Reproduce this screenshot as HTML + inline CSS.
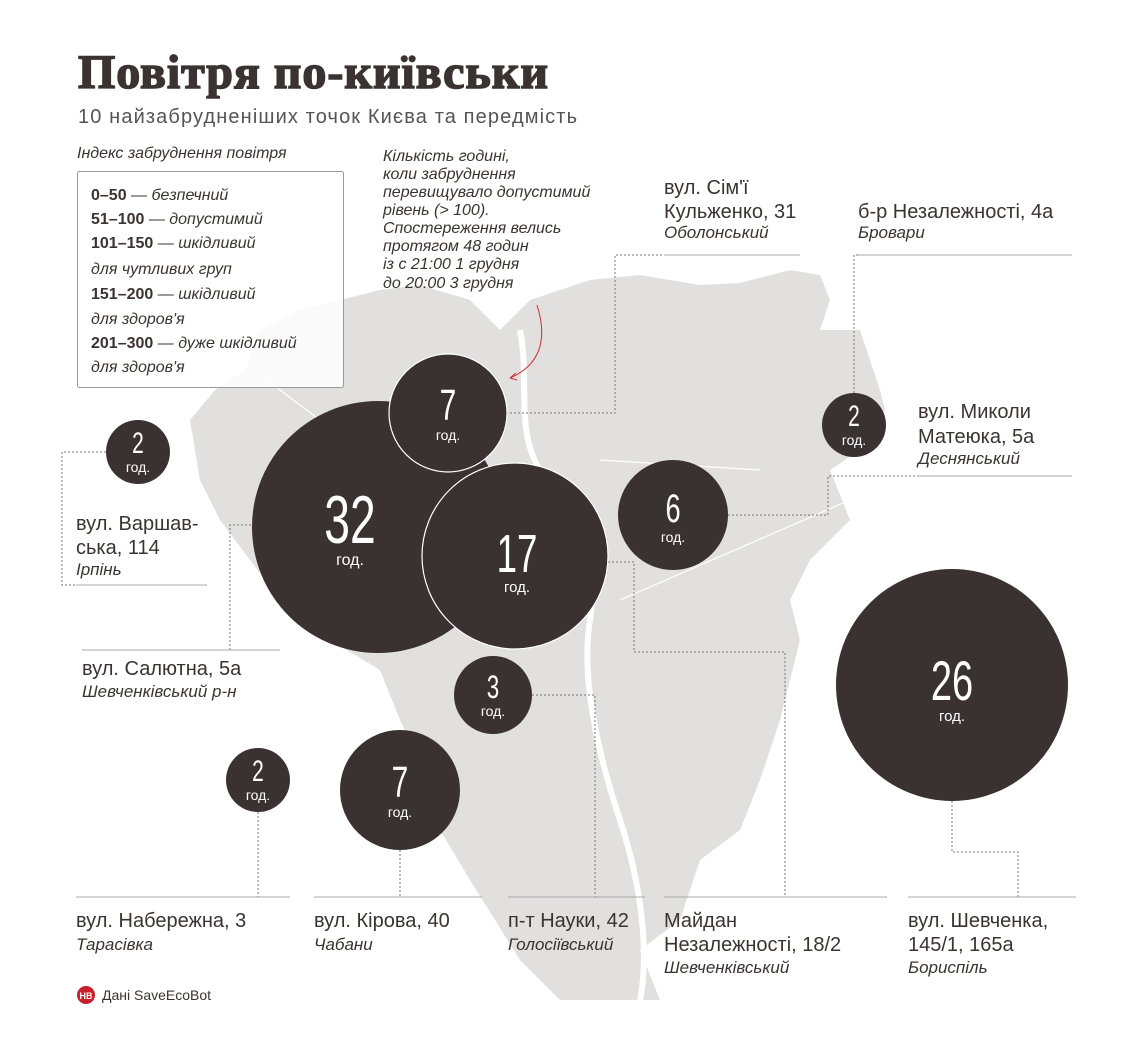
<!DOCTYPE html>
<html><head><meta charset="utf-8"><style>
body{margin:0;background:#fff}
svg{display:block}
text{font-family:"Liberation Sans",sans-serif;fill:#3a3331}
.l{font-size:20px}
.i{font-size:17px;font-style:italic}
.n{font-size:16px;font-style:italic}
.num{fill:#fff;font-family:"Liberation Sans",sans-serif;text-anchor:middle}
.g{fill:#fff;font-size:14px;text-anchor:middle}
.d{stroke:#777;stroke-width:1;stroke-dasharray:2 2;fill:none}
.s{stroke:#aaa;stroke-width:1;fill:none}
</style></head><body>
<svg width="1148" height="1053" viewBox="0 0 1148 1053">
<polygon fill="#e2dfdf" points="190,420 215,390 245,370 260,330 300,310 340,300 380,290 420,285 470,300 500,330 530,300 560,290 590,280 640,275 700,285 740,283 790,270 820,275 830,300 820,330 860,330 880,390 885,410 860,450 830,470 850,520 810,560 790,600 800,640 780,720 760,780 740,830 700,860 680,920 640,950 660,1000 560,1000 520,960 470,880 440,830 420,760 400,720 380,670 330,640 280,600 250,560 220,520 200,480"/>
<path d="M520,330 C530,380 515,430 540,470 C560,520 600,560 590,620 C580,680 600,760 620,820 C640,880 650,950 640,1000" stroke="#fff" stroke-width="6" fill="none"/>
<path d="M240,360 L320,420 M600,460 L760,470 M620,600 L850,500" stroke="#fff" stroke-width="1.2" fill="none"/>

<text x="78" y="88" style="font-family:'Liberation Serif',serif;font-weight:900;font-size:48px;stroke:#3a3331;stroke-width:1.5" textLength="470">Повітря по-київськи</text>
<text x="78" y="123" style="font-size:20px;fill:#555" textLength="499">10 найзабрудненіших точок Києва та передмість</text>

<text x="77" y="158" class="n">Індекс забруднення повітря</text>
<rect x="77.5" y="171.5" width="266" height="216" rx="2" fill="rgba(255,255,255,0.85)" stroke="#999"/>
<g style="font-size:16px">
<text x="91" y="200"><tspan font-weight="bold">0–50</tspan><tspan font-style="italic"> — безпечний</tspan></text>
<text x="91" y="224"><tspan font-weight="bold">51–100</tspan><tspan font-style="italic"> — допустимий</tspan></text>
<text x="91" y="248"><tspan font-weight="bold">101–150</tspan><tspan font-style="italic"> — шкідливий</tspan></text>
<text x="91" y="274" font-style="italic">для чутливих груп</text>
<text x="91" y="299"><tspan font-weight="bold">151–200</tspan><tspan font-style="italic"> — шкідливий</tspan></text>
<text x="91" y="324" font-style="italic">для здоров'я</text>
<text x="91" y="348"><tspan font-weight="bold">201–300</tspan><tspan font-style="italic"> — дуже шкідливий</tspan></text>
<text x="91" y="372" font-style="italic">для здоров'я</text>
</g>
<g>
<text x="383" y="161" class="n">Кількість годині,</text>
<text x="383" y="179" class="n">коли забруднення</text>
<text x="383" y="197" class="n">перевищувало допустимий</text>
<text x="383" y="215" class="n">рівень (&gt; 100).</text>
<text x="383" y="233" class="n">Спостереження велись</text>
<text x="383" y="251" class="n">протягом 48 годин</text>
<text x="383" y="269" class="n">із с 21:00 1 грудня</text>
<text x="383" y="288" class="n">до 20:00 3 грудня</text>
</g>
<path d="M537,305 C548,340 540,365 510,378" stroke="#c33" fill="none"/>
<path d="M510,378 l6,-5 M510,378 l7,2" stroke="#c33" fill="none"/>

<path class="d" d="M506,413 H615 V255 H664"/>
<path class="s" d="M664,255 H800"/>
<path class="d" d="M854,393 V255 H858"/><path class="s" d="M858,255 H1072"/>
<path class="d" d="M728,515 H828 V476 H918"/><path class="s" d="M918,476 H1072"/>
<path class="d" d="M106,452 H62 V585 H76"/><path class="s" d="M76,585 H207"/>
<path class="d" d="M255,525 H230 V650"/><path class="s" d="M82,650 H280"/>
<path class="d" d="M258,812 V897"/><path class="s" d="M76,897 H290"/>
<path class="d" d="M400,850 V897"/><path class="s" d="M314,897 H482"/>
<path class="d" d="M532,695 H595 V897"/><path class="s" d="M508,897 H645"/>
<path class="d" d="M608,562 H634 V652 H785 V897"/><path class="s" d="M664,897 H887"/>
<path class="d" d="M952,801 V852 H1018 V897"/><path class="s" d="M908,897 H1076"/>

<g fill="#3a3231">
<circle cx="378" cy="527" r="126"/>
<circle cx="448" cy="413" r="59" stroke="#fff" stroke-width="1.2"/>
<circle cx="515" cy="556" r="93" stroke="#fff" stroke-width="1.2"/>
<circle cx="673" cy="515" r="55"/>
<circle cx="854" cy="425" r="32"/>
<circle cx="138" cy="452" r="32"/>
<circle cx="493" cy="695" r="39"/>
<circle cx="952" cy="685" r="116"/>
<circle cx="400" cy="790" r="60"/>
<circle cx="258" cy="780" r="32"/>
</g>
<text class="num" transform="translate(350,543) scale(0.68,1)" style="font-size:68px">32</text><text class="g" x="350" y="565" style="font-size:16px">год.</text>
<text class="num" transform="translate(448,420) scale(0.68,1)" style="font-size:44px">7</text><text class="g" x="448" y="440">год.</text>
<text class="num" transform="translate(517,572) scale(0.68,1)" style="font-size:54px">17</text><text class="g" x="517" y="592" style="font-size:15px">год.</text>
<text class="num" transform="translate(673,522) scale(0.68,1)" style="font-size:40px">6</text><text class="g" x="673" y="542">год.</text>
<text class="num" transform="translate(854,426) scale(0.7,1)" style="font-size:30px">2</text><text class="g" x="854" y="445">год.</text>
<text class="num" transform="translate(138,453) scale(0.7,1)" style="font-size:30px">2</text><text class="g" x="138" y="472">год.</text>
<text class="num" transform="translate(493,698) scale(0.7,1)" style="font-size:32px">3</text><text class="g" x="493" y="716">год.</text>
<text class="num" transform="translate(952,700) scale(0.68,1)" style="font-size:56px">26</text><text class="g" x="952" y="721" style="font-size:15px">год.</text>
<text class="num" transform="translate(400,797) scale(0.68,1)" style="font-size:44px">7</text><text class="g" x="400" y="817">год.</text>
<text class="num" transform="translate(258,781) scale(0.7,1)" style="font-size:30px">2</text><text class="g" x="258" y="800">год.</text>

<text class="l" x="664" y="194">вул. Сім'ї</text>
<text class="l" x="664" y="218">Кульженко, 31</text>
<text class="i" x="664" y="238">Оболонський</text>
<text class="l" x="858" y="218">б-р Незалежності, 4а</text>
<text class="i" x="858" y="238">Бровари</text>
<text class="l" x="918" y="418">вул. Миколи</text>
<text class="l" x="918" y="443">Матеюка, 5а</text>
<text class="i" x="918" y="464">Деснянський</text>
<text class="l" x="76" y="530">вул. Варшав-</text>
<text class="l" x="76" y="554">ська, 114</text>
<text class="i" x="76" y="575">Ірпінь</text>
<text class="l" x="82" y="675">вул. Салютна, 5а</text>
<text class="i" x="82" y="697">Шевченківський р-н</text>
<text class="l" x="76" y="927">вул. Набережна, 3</text>
<text class="i" x="76" y="950">Тарасівка</text>
<text class="l" x="314" y="927">вул. Кірова, 40</text>
<text class="i" x="314" y="950">Чабани</text>
<text class="l" x="508" y="927">п-т Науки, 42</text>
<text class="i" x="508" y="950">Голосіївський</text>
<text class="l" x="664" y="927">Майдан</text>
<text class="l" x="664" y="951">Незалежності, 18/2</text>
<text class="i" x="664" y="973">Шевченківський</text>
<text class="l" x="908" y="927">вул. Шевченка,</text>
<text class="l" x="908" y="951">145/1, 165а</text>
<text class="i" x="908" y="973">Бориспіль</text>

<circle cx="86" cy="995" r="9" fill="#c8202a"/>
<text x="86" y="999" style="fill:#fff;font-size:9px;font-weight:bold" text-anchor="middle">НВ</text>
<text x="102" y="1000" style="font-size:14px">Дані SaveEcoBot</text>
</svg>
</body></html>
